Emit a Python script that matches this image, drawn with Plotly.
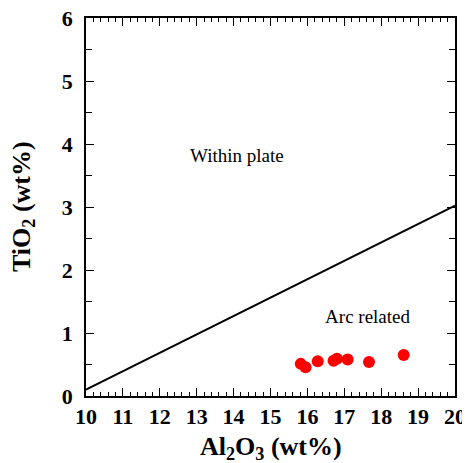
import plotly.graph_objects as go

# Data
al2o3 = [15.82, 15.95, 16.28, 16.71, 16.80, 17.09, 17.67, 18.61]
tio2 = [0.51, 0.455, 0.55, 0.56, 0.59, 0.58, 0.54, 0.65]

boundary_x = [10, 20]
boundary_y = [0.1, 3.02]

x_ticks = list(range(10, 21))
y_ticks = list(range(0, 7))

labels = ["Within plate", "Arc related"]
label_x = [14.09, 17.63]
label_y = [3.79, 1.24]

x_title = "Al<sub>2</sub>O<sub>3</sub> (wt%)"
y_title = "TiO<sub>2</sub> (wt%)"

serif = "Liberation Serif, Times New Roman, serif"

fig = go.Figure()
fig.add_trace(go.Scatter(x=boundary_x, y=boundary_y, mode="lines",
                         line=dict(color="black", width=2), showlegend=False,
                         hoverinfo="skip"))
fig.add_trace(go.Scatter(x=al2o3, y=tio2, mode="markers",
                         marker=dict(color="#ff0000", size=12, symbol="circle",
                                     line=dict(width=0)),
                         showlegend=False))
fig.add_trace(go.Scatter(x=label_x, y=label_y, mode="text", text=labels,
                         textfont=dict(family=serif, size=19, color="black"),
                         showlegend=False, hoverinfo="skip"))

axis_common = dict(
    showgrid=False, zeroline=False, showline=True, linecolor="black",
    linewidth=1.8, mirror="allticks", ticks="inside", tickcolor="black",
    tickwidth=1.2, ticklen=8, automargin=False, ticklabeloverflow="allow",
    tickfont=dict(family=serif, size=22, color="black", weight="bold"),
)

fig.update_xaxes(
    range=[10, 20], tickvals=x_ticks, ticktext=[str(v) for v in x_ticks],
    minor=dict(ticks="inside", dtick=0.2, ticklen=4, tickcolor="black", tickwidth=1),
    **axis_common,
)
fig.update_yaxes(
    range=[0, 6], tickvals=y_ticks, ticktext=[str(v) for v in y_ticks],
    minor=dict(ticks="inside", dtick=0.5, ticklen=6, tickcolor="black", tickwidth=1),
    ticklabelstandoff=7,
    **axis_common,
)

title_font = dict(family=serif, size=26, color="black", weight="bold")
fig.add_annotation(text=x_title, xref="paper", yref="paper", x=0.5, y=0,
                   yshift=-52, showarrow=False, font=title_font,
                   xanchor="center", yanchor="middle")
fig.add_annotation(text=y_title, xref="paper", yref="paper", x=0, y=0.5,
                   xshift=-63, showarrow=False, font=title_font, textangle=-90,
                   xanchor="center", yanchor="middle")

# page body adds an 8px offset; compensate in size/margins
fig.update_layout(
    width=462, height=455,
    margin=dict(l=78, r=15, t=10, b=67),
    plot_bgcolor="white", paper_bgcolor="white",
)

fig.write_html("out.html")
